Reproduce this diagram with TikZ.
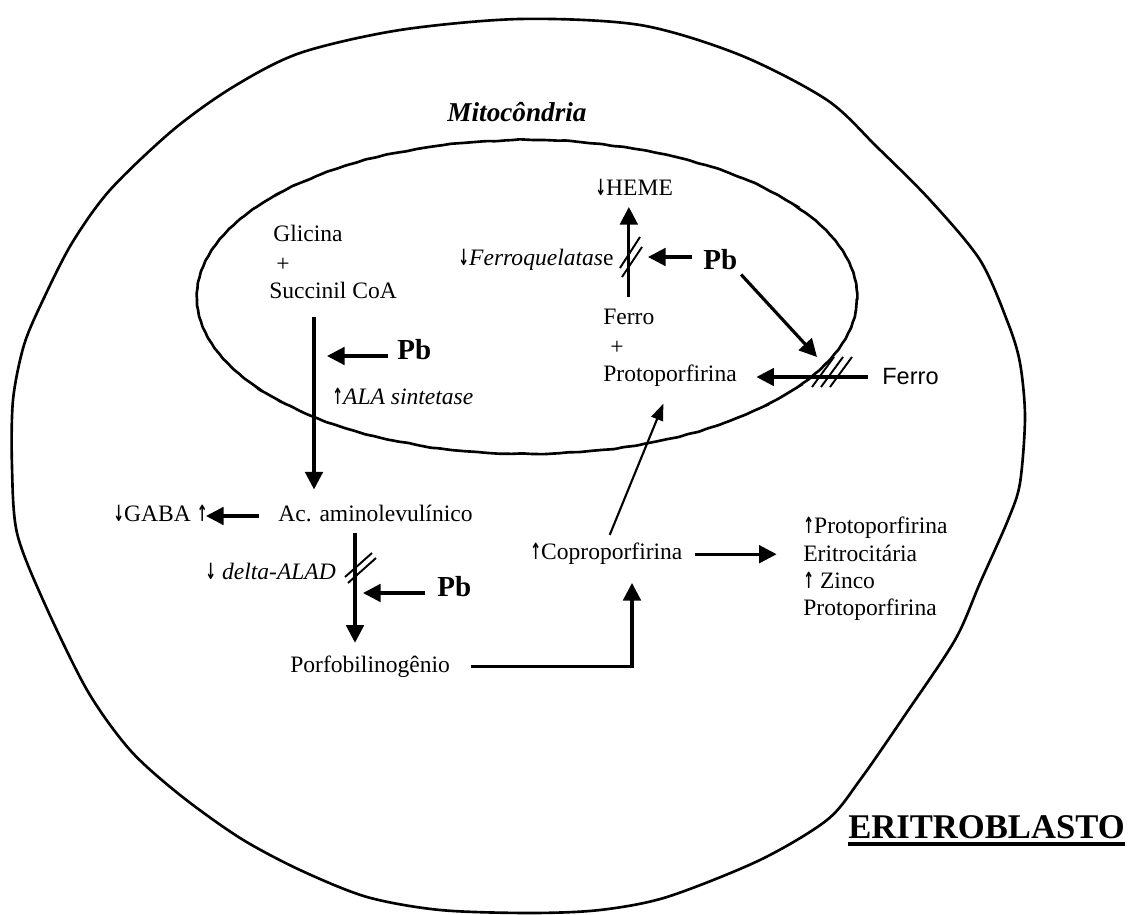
\documentclass[tikz,border=0pt]{standalone}
\usepackage{fontspec}
\usepackage{graphicx}
\setmainfont{Liberation Serif}
\newfontfamily\sansf{Liberation Sans}
\newfontfamily\arrowf{DejaVu Sans}
\usetikzlibrary{arrows.meta,decorations.pathmorphing}
\newcommand{\up}{\scalebox{0.55}[0.95]{\arrowf\bfseries ↑}}
\newcommand{\dn}{\scalebox{0.55}[0.95]{\arrowf\bfseries ↓}}

\tikzset{
  txt/.style={inner sep=0pt,anchor=base west,font=\fontsize{13.4}{15.5}\selectfont},
  pb/.style={inner sep=0pt,anchor=base west,font=\fontsize{16.5}{18}\selectfont\bfseries},
  arr/.style={-{Triangle[length=10pt,width=10pt]},line width=1.8pt},
  thinarr/.style={-{Triangle[length=9.5pt,width=7pt]},line width=1.2pt},
  slash/.style={line width=1.1pt},
  wall/.style={line width=1.5pt}
}

\begin{document}
\begin{tikzpicture}[x=0.02cm,y=-0.02cm]
  \useasboundingbox (0,0) rectangle (1130,915);
  % cell and mitochondrion
  \draw[wall] plot[smooth cycle] coordinates {(12,467) (13,400) (24,345) (43,300) (72,243) (110,190)
    (173,130) (233,87) (300,53) (400,30) (520,19) (640,25) (740,55) (827,100) (877,147) (930,200)
    (980,260) (1008,323) (1020,363) (1025,417) (1020,483) (1008,520) (980,583) (955,640) (905,715)
    (860,780) (827,820) (760,860) (667,897) (600,910) (530,913) (440,910) (367,897) (300,870)
    (240,838) (180,795) (130,750) (87,690) (43,600) (17,533)};
  \pgfmathsetseed{11}
  \draw[wall,decoration={random steps,segment length=5pt,amplitude=0.45pt},decorate,rounded corners=0.8pt]
    plot[domain=0:360,samples=90,smooth cycle] ({527+330*cos(\x)},{297+157*sin(\x)});

  \node[inner sep=0pt,anchor=base,font=\fontsize{15.5}{18}\selectfont\bfseries\itshape] (mito) at (517,122) {Mitocôndria};
  \node[inner sep=0pt,anchor=base west,font=\fontsize{19.7}{22}\selectfont\bfseries] (erit) at (848,838) {ERITROBLASTO};
  \draw[line width=2.8pt] ([yshift=-3.4pt]erit.base west) -- ([yshift=-3.4pt]erit.base east);

  % left pathway
  \node[txt] (gli) at (273,242) {Glicina};
  \node[txt,anchor=center] (plus1) at (283,265) {+};
  \node[txt] (succ) at (269,299) {Succinil CoA};
  \node[pb] (pbA) at (397,360) {Pb};
  \node[txt] (alas) at (332,405) {\up\textit{ALA sintetase}};
  \node[txt] (ala) at (278,522) {Ac. aminolevulínico};
  \node[txt] (gaba) at (113,522) {\dn GABA \up};
  \node[txt] (alad) at (205,580) {\dn\ \textit{delta-ALAD}};
  \node[pb] (pbB) at (437,597) {Pb};
  \node[txt] (pbg) at (290,672) {Porfobilinogênio};
  \node[txt] (copro) at (530,560) {\up Coproporfirina};
  \node[txt,anchor=north west,align=left] (zpp) at (803,517) {\up Protoporfirina\\ Eritrocitária\\ \up\ Zinco\\ Protoporfirina};

  % heme synthesis
  \node[txt] (ferro1) at (603,325) {Ferro};
  \node[txt,anchor=center] (plus2) at (617,348) {+};
  \node[txt] (proto) at (603,382) {Protoporfirina};
  \node[txt] (heme) at (595,196) {\dn HEME};
  \node[txt] (fq) at (458,266) {\dn\textit{Ferroquelatas}e};
  \node[pb] (pbC) at (703,270) {Pb};
  \node[txt,font=\fontsize{13.4}{15.5}\selectfont\sansf] (ferro2) at (882,385) {Ferro};

  \coordinate (v1) at (314,400);
  \coordinate (v2) at (355,600);
  \coordinate (v3) at (632,600);
  \coordinate (tA) at (327,356);
  \coordinate (tB) at (363,593);
  \coordinate (tC) at (648,257);
  \coordinate (tD) at (817,357);
  \coordinate (tG) at (206,516);
  \coordinate (sl1) at (358,568);
  \coordinate (sl2) at (631,257);
  \coordinate (sl3) at (832,372);

  \draw[arr,shorten <=10pt,shorten >=9pt] (succ.south -| v1) -- (ala.north -| v1);
  \draw[arr,shorten <=5pt] (pbA.west |- tA) -- (tA);
  \draw[arr,shorten <=11pt] (ala.west |- tG) -- (tG);
  \draw[arr,shorten <=6pt,shorten >=7pt] (ala.south -| v2) -- (pbg.north -| v2);
  \draw[arr,shorten <=7pt] (pbB.west |- tB) -- (tB);
  \draw[arr,shorten <=12pt,shorten >=10pt] (pbg.east) -| (copro.south -| v3);
  \draw[arr,shorten <=7pt,shorten >=15pt] (copro.east) -- (zpp.west |- copro.east);
  \draw[thinarr,shorten <=5pt,shorten >=10pt] (copro.north) -- (proto.south);
  \draw[arr,shorten <=7pt,shorten >=6pt] (ferro1.north) -- (ferro1.north |- heme.south);
  \draw[arr,shorten <=6pt] (pbC.west |- tC) -- (tC);
  \draw[arr,shorten <=3pt] (pbC.south east) -- (tD);
  \draw[arr,shorten <=8pt,shorten >=11pt] (ferro2.west) -- (proto.east |- ferro2.west);

  % blocked steps
  \draw[slash] ([shift={(-13,9)}]sl1) -- ([shift={(14,-15)}]sl1);
  \draw[slash] ([shift={(-10,15)}]sl1) -- ([shift={(18,-10)}]sl1);
  \draw[slash] ([shift={(-11,11)}]sl2) -- ([shift={(9,-20)}]sl2);
  \draw[slash] ([shift={(-9,20)}]sl2) -- ([shift={(11,-10)}]sl2);
  \foreach \d in {-9,0,9}
    \draw[slash] ([shift={(\d-11,15)}]sl3) -- ([shift={(\d+11,-15)}]sl3);
\end{tikzpicture}
\end{document}
